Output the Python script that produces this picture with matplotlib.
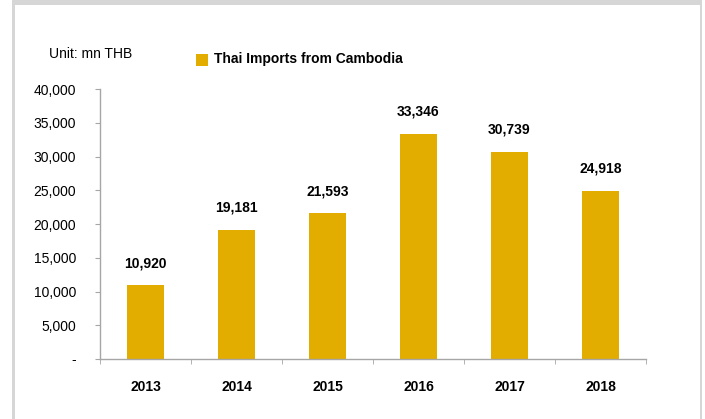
import matplotlib.pyplot as plt
from matplotlib.patches import Rectangle

years = ["2013", "2014", "2015", "2016", "2017", "2018"]
imports = [10920, 19181, 21593, 33346, 30739, 24918]
ytick_vals = [0, 5000, 10000, 15000, 20000, 25000, 30000, 35000, 40000]
ytick_labels = ["-", "5,000", "10,000", "15,000", "20,000", "25,000",
                "30,000", "35,000", "40,000"]

BAR = "#e3ad00"
GRAY = "#a6a6a6"
FRAME = "#d6d6d6"

plt.rcParams["font.family"] = ["Liberation Sans", "DejaVu Sans"]

fig = plt.figure(figsize=(7.05, 4.19), dpi=100)
W, H = 705, 419

# light grey frame around the panel
def px_rect(x0, y0, x1, y1):
    fig.patches.append(Rectangle((x0 / W, 1 - y1 / H), (x1 - x0) / W, (y1 - y0) / H,
                                 transform=fig.transFigure, facecolor=FRAME,
                                 edgecolor="none", zorder=0))

px_rect(12, 0, 701, 5)
px_rect(12, 0, 14.5, H)
px_rect(699.5, 0, 702, H)

ax = fig.add_axes([100 / W, 1 - 359 / H, 546 / W, 270 / H])

x = range(len(years))
ax.bar(x, imports, width=0.4, color=BAR, zorder=2)
for xi, v in zip(x, imports):
    ax.annotate(f"{v:,}", (xi, v), xytext=(0, 16), textcoords="offset points",
                ha="center", va="center", fontsize=10, fontweight="bold")

ax.set_xlim(-0.5, len(years) - 0.5)
ax.set_ylim(0, 40000)
ax.set_yticks(ytick_vals)
ax.set_yticklabels(ytick_labels, fontsize=10)
ax.set_xticks(list(x))
ax.set_xticklabels(years, fontsize=10, fontweight="bold")
ax.set_xticks([i - 0.5 for i in range(len(years) + 1)], minor=True)
ax.tick_params(axis="x", which="major", length=0, pad=15)
ax.tick_params(axis="x", which="minor", length=3.6, color=GRAY, direction="out")
ax.tick_params(axis="y", length=3.6, color=GRAY, pad=13.5)
for lbl in ax.get_yticklabels():
    lbl.set_horizontalalignment("right")

for side in ("top", "right"):
    ax.spines[side].set_visible(False)
for side in ("left", "bottom"):
    ax.spines[side].set_color(GRAY)
    ax.spines[side].set_linewidth(1.0)

fig.text(49 / W, 1 - 54 / H, "Unit: mn THB", fontsize=10, va="center", ha="left")
fig.patches.append(Rectangle((196 / W, 1 - 66 / H), 12 / W, 12 / H,
                             transform=fig.transFigure, facecolor=BAR,
                             edgecolor="none"))
fig.text(214 / W, 1 - 59 / H, "Thai Imports from Cambodia", fontsize=10,
         fontweight="bold", va="center", ha="left")

fig.savefig("out.png", dpi=100)
